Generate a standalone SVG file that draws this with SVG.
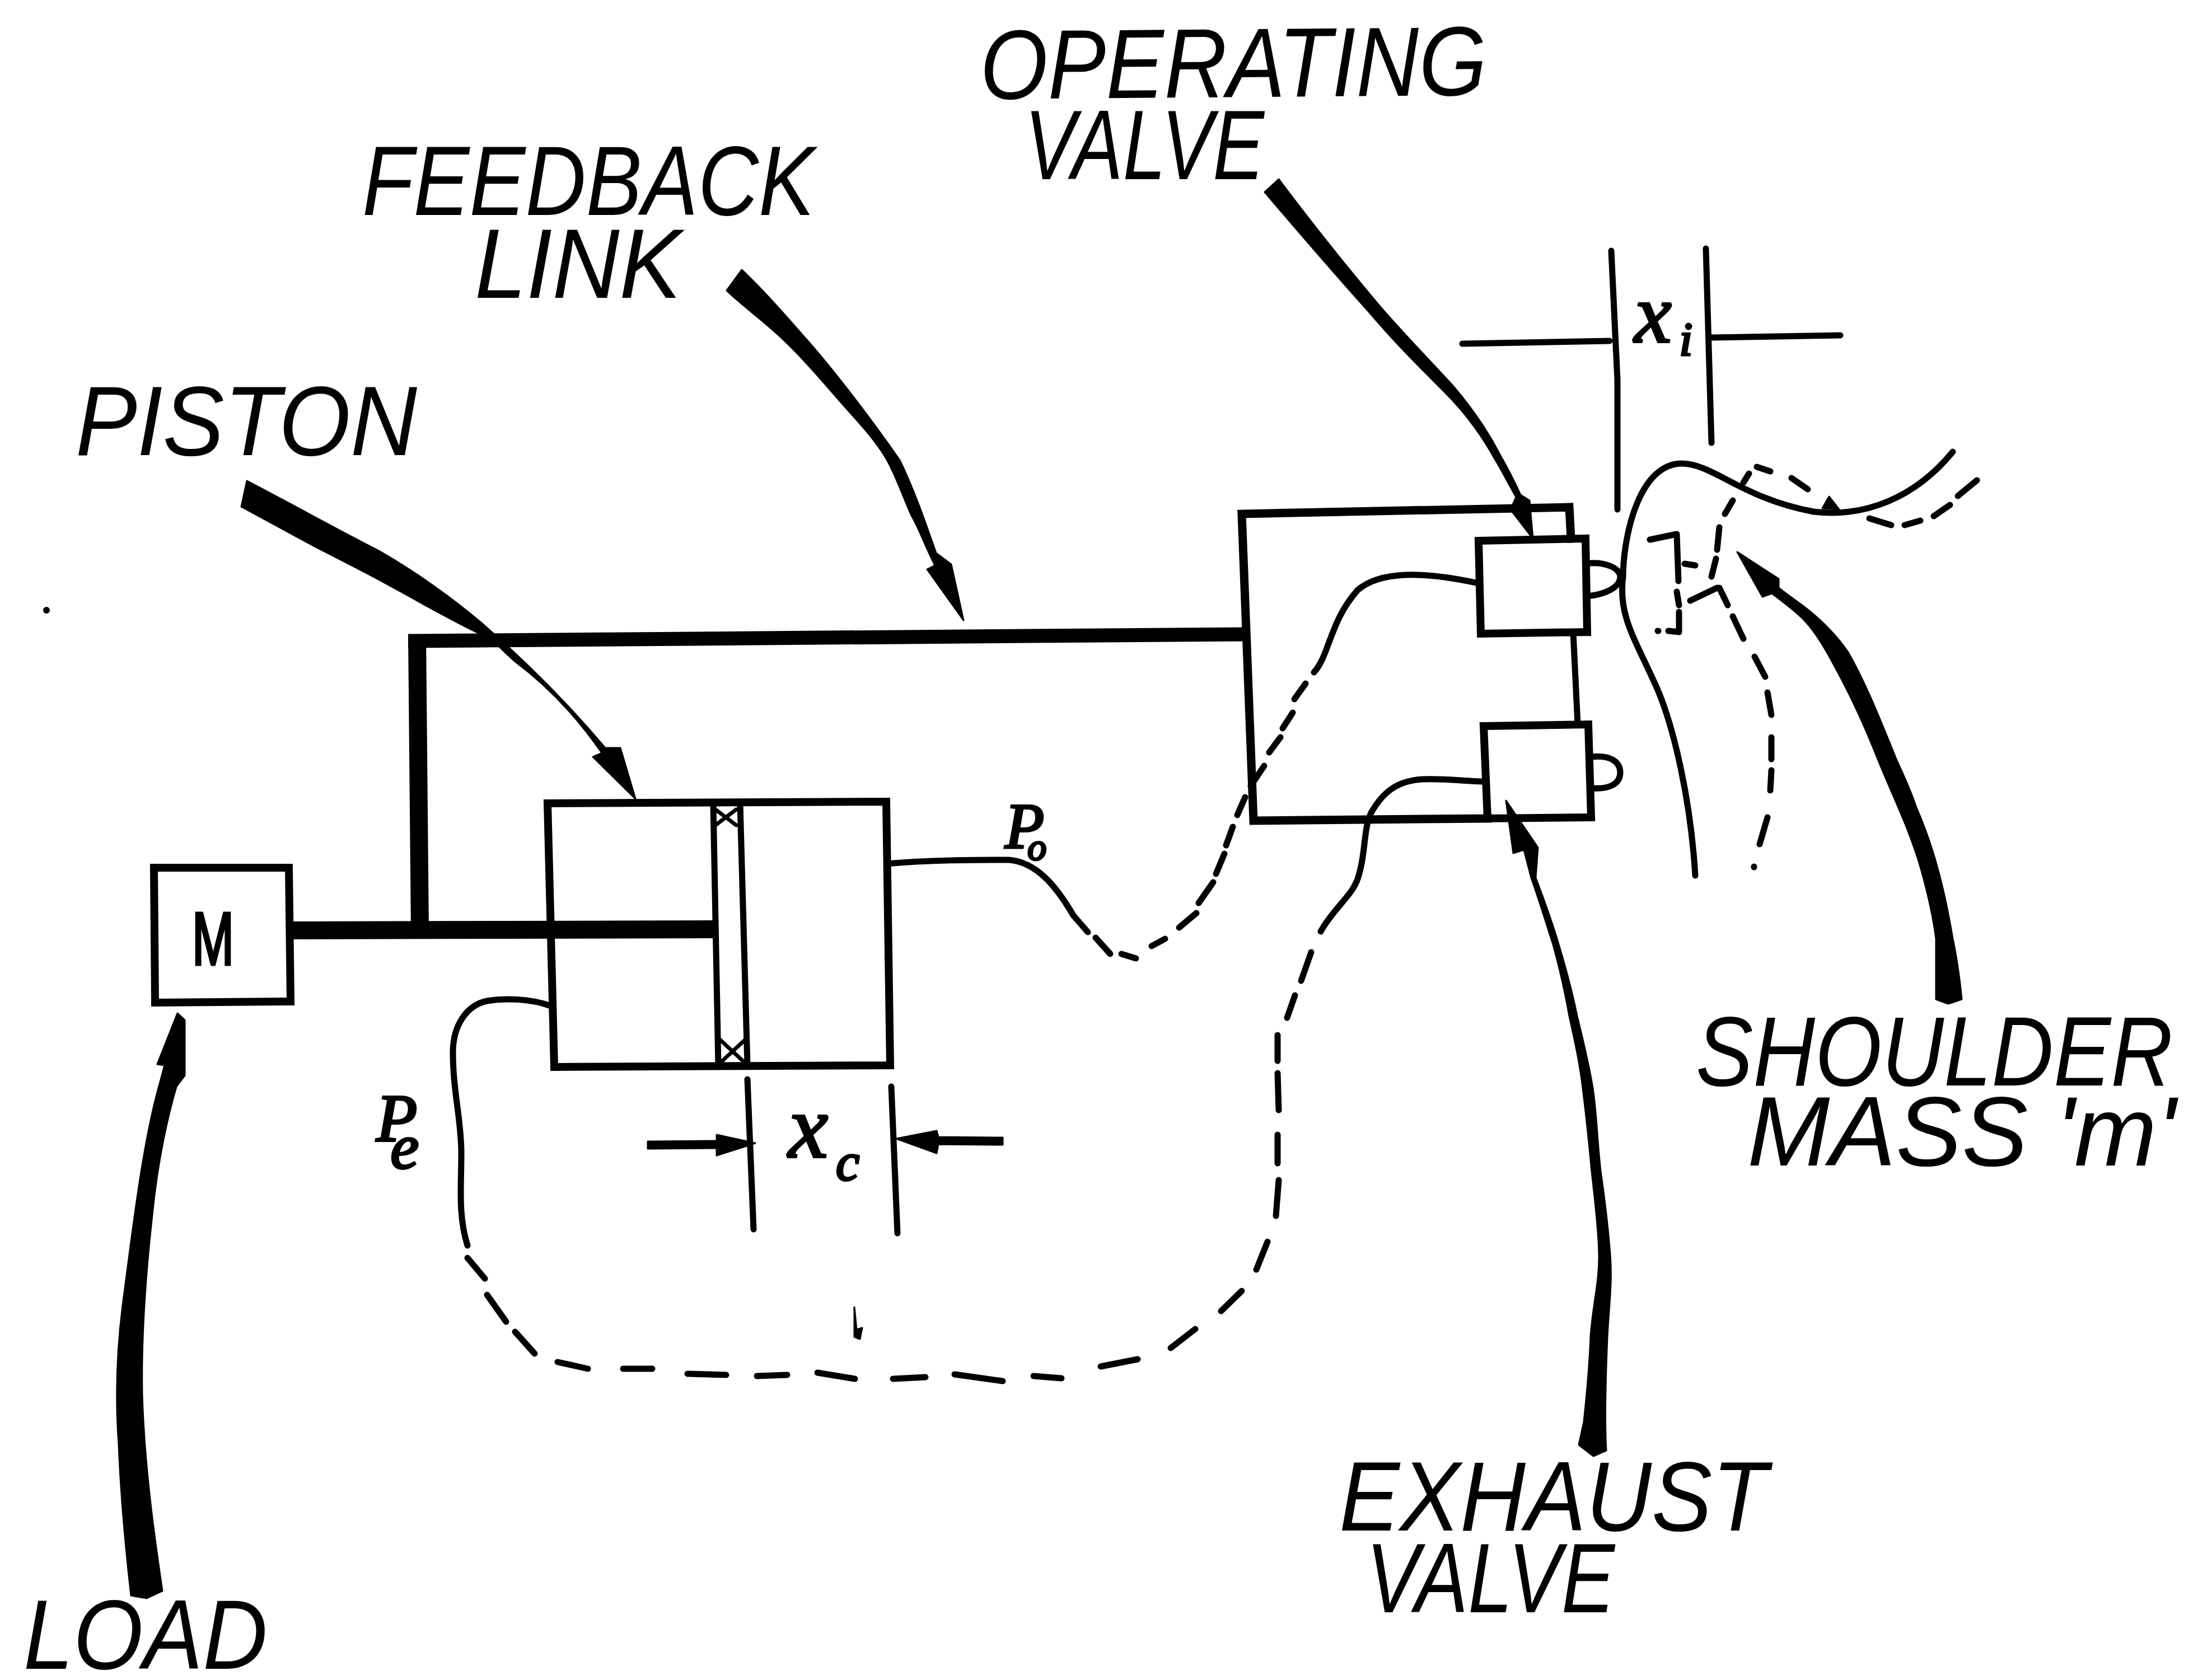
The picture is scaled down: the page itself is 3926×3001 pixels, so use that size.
<svg xmlns="http://www.w3.org/2000/svg" width="3926" height="3001" viewBox="0 0 3926 3001">
<style>
text{font-family:"Liberation Sans",Arial,sans-serif;fill:#000}
.lab{font-size:176px;font-style:italic}
.sym{font-family:"Liberation Serif","Times New Roman",serif;font-style:italic;stroke:#000;stroke-width:4px}
.ln,.box,.dash,.thin{fill:none;stroke:#000;stroke-linecap:round;stroke-linejoin:round}
.box{stroke-width:14px;stroke-linejoin:miter;stroke-linecap:square}
.ln{stroke-width:11px}
.thin{stroke-width:7px}
.dash{stroke-width:11px}
.ar{fill:#000;stroke:#000;stroke-width:3px;stroke-linejoin:round}
</style>
<rect width="3926" height="3001" fill="#fff"/>
<g id="connectors">
<path id="feedback-link" d="M729,1145L2228,1133" fill="none" stroke="#000" stroke-width="25"/>
<path id="feedback-drop" d="M745,1135L750,1662" fill="none" stroke="#000" stroke-width="32"/>
<path id="rod" d="M516,1662L1283,1660" fill="none" stroke="#000" stroke-width="32"/>
<path id="po-line" class="ln" d="M1584,1543C1660,1536 1740,1536 1802,1536C1850,1540 1885,1580 1917,1635"/>
<path id="po-dash" class="dash" d="M1917,1635L1943,1665M1957,1675L1983,1704M2003,1704L2029,1712M2057,1690L2081,1677M2106,1657L2137,1631M2141,1613L2167,1576M2172,1561L2187,1525M2190,1510L2202,1477M2210,1456L2224,1424M2234,1404L2258,1368M2267,1344L2287,1317M2291,1301L2309,1273M2312,1249L2332,1221"/>
<path id="po-line2" class="ln" d="M2347,1201C2375,1170 2375,1110 2425,1054C2465,1020 2540,1020 2641,1042"/>
<path id="pe-line" class="ln" d="M981,1796C950,1785 905,1782 870,1788C835,1795 809,1830 809,1880C809,1950 824,2000 824,2060C824,2120 818,2170 835,2225"/>
<path id="pe-dash" class="dash" d="M835,2247L866,2284M870,2313L904,2361M920,2379L955,2418M996,2433L1050,2445M1113,2445L1165,2445M1228,2454L1297,2456M1352,2458L1406,2456M1460,2452L1527,2463M1595,2463L1653,2460M1705,2455L1791,2467M1846,2458L1896,2462M1966,2441L2032,2428M2091,2408L2135,2374M2181,2342L2218,2306M2244,2268L2264,2218M2279,2172L2284,2108M2282,2078L2282,2027M2284,1983L2282,1917M2282,1895L2282,1849M2299,1818L2313,1778M2324,1752L2342,1701"/>
<path id="pe-line2" class="ln" d="M2359,1664C2380,1625 2415,1600 2425,1570C2440,1525 2435,1480 2449,1452C2470,1415 2495,1395 2540,1392C2580,1390 2620,1396 2650,1396"/>
<path id="load-arrow" class="ar" d="M317,1810L281,1901L294,1903L286,1933C255,2040 238,2190 219,2332C208,2420 206,2500 212,2580C216,2680 226,2780 234,2850L262,2855L290,2842C275,2740 258,2620 254,2491C252,2380 262,2260 272,2170C280,2090 295,2010 315,1941L330,1921L330,1822Z"/>
<path id="piston-arrow" class="ar" d="M441,859C520,900 600,945 675,983C740,1020 810,1070 859,1112C920,1165 1000,1240 1081,1336L1108,1336L1135,1427L1059,1352L1075,1345C1020,1265 965,1215 918,1180C890,1155 880,1140 859,1133C800,1105 750,1075 696,1046C650,1020 600,996 560,975L431,905Z"/>
<path id="feedback-arrow" class="ar" d="M1325,482C1360,515 1400,560 1433,598C1480,650 1550,740 1607,822C1635,880 1655,940 1672,988L1699,1008L1721,1108L1656,1017L1670,1010C1650,970 1640,940 1628,921C1610,880 1595,835 1574,805C1550,770 1525,745 1498,714C1460,670 1425,630 1390,598C1360,570 1325,545 1298,519Z"/>
<path id="operating-arrow" class="ar" d="M2284,320C2340,395 2400,470 2462,544C2510,600 2555,645 2595,689C2630,730 2660,775 2679,812C2695,840 2705,860 2716,884L2732,894L2738,962L2698,910L2708,888C2695,865 2685,845 2669,818C2645,775 2615,735 2581,701C2535,655 2490,610 2446,558C2385,490 2320,415 2259,343Z"/>
<path id="exhaust-arrow" class="ar" d="M2820,2581L2846,2601L2869,2591C2866,2540 2868,2460 2871,2388C2874,2330 2880,2290 2876,2240C2872,2190 2866,2140 2859,2092C2853,2040 2852,1990 2845,1944C2838,1900 2828,1860 2817,1815C2808,1770 2797,1730 2784,1687C2772,1645 2757,1605 2743,1568L2747,1514L2690,1430L2703,1524L2722,1518L2735,1568C2750,1610 2762,1650 2774,1687C2786,1730 2795,1770 2803,1815C2813,1860 2822,1900 2827,1944C2833,1990 2838,2040 2843,2092C2848,2140 2855,2190 2856,2240C2857,2290 2845,2330 2841,2388C2838,2460 2832,2510 2829,2540Z"/>
<path id="shoulder-arrow" class="ar" d="M3458,1785L3480,1793L3504,1785C3500,1745 3495,1710 3488,1677C3480,1630 3472,1590 3460,1548C3450,1510 3437,1475 3422,1440C3412,1410 3400,1385 3387,1356C3360,1290 3335,1225 3301,1165C3280,1135 3260,1115 3234,1093C3215,1077 3195,1065 3177,1050L3177,1034L3103,986L3148,1066L3165,1060C3185,1075 3205,1090 3220,1105C3240,1125 3258,1155 3272,1181C3305,1240 3330,1295 3354,1356C3380,1420 3410,1480 3430,1548C3442,1590 3452,1630 3458,1677Z"/>
<path id="xc-left" class="ar" d="M1157,2039L1280,2038L1280,2027L1349,2042L1280,2064L1280,2051L1157,2052Z"/>
<path id="xc-right" class="ar" d="M1791,2032L1676,2031L1673,2020L1601,2034L1673,2060L1676,2044L1791,2045Z"/>
<path id="xi-left" class="ln" d="M2612,614L2875,609"/>
<path id="xi-right" class="ln" d="M3057,603L3287,599"/>
</g>
<g id="node-mass-M">
<path class="box" d="M275,1550L516,1550L519,1789L277,1791Z"/>
<text x="343" y="1723" font-size="133" stroke="#000" stroke-width="5" textLength="75" lengthAdjust="spacingAndGlyphs">M</text>
</g>
<g id="node-cylinder">
<path class="box" d="M978,1435L1583,1432L1590,1903L990,1906Z"/>
<path class="ln" d="M1274,1437L1283,1903M1322,1437L1335,1903"/>
<path class="thin" d="M1278,1446L1315,1474M1315,1446L1278,1474M1287,1858L1330,1898M1330,1858L1287,1898"/>
</g>
<g id="node-valve-frame">
<path class="box" style="stroke-width:15px" d="M2806,962L2803,906L2218,918L2239,1466L2657,1462"/>
<path class="ln" d="M2810,1130L2818,1293"/>
</g>
<g id="node-operating-valve">
<path class="box" d="M2641,966L2832,962L2835,1129L2645,1132Z"/>
<path class="ln" d="M2832,1007C2866,1002 2894,1015 2894,1030C2894,1050 2866,1062 2835,1065"/>
</g>
<g id="node-exhaust-valve">
<path class="box" d="M2650,1297L2837,1294L2842,1460L2657,1462Z"/>
<path class="ln" d="M2842,1352C2875,1348 2894,1360 2894,1380C2894,1400 2875,1410 2845,1408"/>
</g>
<g id="node-shoulder">
<path class="ln" d="M3028,1564C3020,1430 2990,1300 2960,1230C2920,1140 2890,1100 2899,1030C2900,950 2930,828 3004,828C3060,828 3110,890 3239,914C3330,925 3420,890 3488,807"/>
<path class="ar" d="M3255,908L3267,887L3285,910Z"/>
<path class="dash" d="M3531,858L3497,886M3483,902L3454,922M3430,930L3402,938M3378,938L3339,926M3229,874L3200,854M3162,842L3138,834M3124,846L3114,862M3095,894L3081,918M3071,942L3067,982M3065,998L3057,1030M3071,1050L3086,1081M3095,1101L3114,1141M3134,1173L3153,1209M3157,1237L3164,1277M3164,1317L3164,1356M3164,1376L3162,1412M3157,1460L3143,1508M3133,1548L3133,1549"/>
<path class="dash" d="M2947,964L2995,954L2998,1038M3009,1007L3028,1010M2995,1057L2999,1081M3019,1073L3067,1050M2999,1093L2999,1129L2980,1127M2961,1127L2962,1127"/>
<path class="ln" d="M2878,448L2889,679L2889,910M3047,444L3057,791"/>
<text class="sym" x="2919" y="611" font-size="150">x<tspan dx="14" dy="24" font-size="85">i</tspan></text>
</g>
<g id="node-xc-dimension">
<path class="ln" d="M1335,1928L1346,2196M1592,1941L1603,2203"/>
<text class="sym" x="1408" y="2067" font-size="160">x<tspan dx="14" dy="41" font-size="95">c</tspan></text>
</g>
<g id="labels">
<text class="lab" x="1751" y="177" textLength="905" lengthAdjust="spacingAndGlyphs" transform="rotate(-0.45 1751 177)">OPERATING</text>
<text class="lab" x="1830" y="320" textLength="428" lengthAdjust="spacingAndGlyphs">VALVE</text>
<text class="lab" x="647" y="384" textLength="808" lengthAdjust="spacingAndGlyphs">FEEDBACK</text>
<text class="lab" x="848" y="532" textLength="369" lengthAdjust="spacingAndGlyphs">LINK</text>
<text class="lab" x="135" y="813" textLength="610" lengthAdjust="spacingAndGlyphs">PISTON</text>
<text class="lab" x="3029" y="1939" textLength="852" lengthAdjust="spacingAndGlyphs">SHOULDER</text>
<text class="lab" x="3121" y="2082" textLength="765" lengthAdjust="spacingAndGlyphs">MASS 'm'</text>
<text class="lab" x="2392" y="2734" textLength="765" lengthAdjust="spacingAndGlyphs">EXHAUST</text>
<text class="lab" x="2440" y="2880" textLength="444" lengthAdjust="spacingAndGlyphs">VALVE</text>
<text class="lab" x="42" y="2981" textLength="436" lengthAdjust="spacingAndGlyphs">LOAD</text>
<text class="sym" x="1795" y="1514" font-size="115">P<tspan dx="-30" dy="22" font-size="68">o</tspan></text>
<text class="sym" x="672" y="2038" font-size="120">P<tspan dx="-48" dy="49" font-size="115">e</tspan></text>
</g>
<g id="specks">
<circle cx="83" cy="1090" r="6"/>
<path class="ar" d="M1526,2335L1530,2375L1540,2372L1536,2392L1526,2388Z"/>
</g>
</svg>
